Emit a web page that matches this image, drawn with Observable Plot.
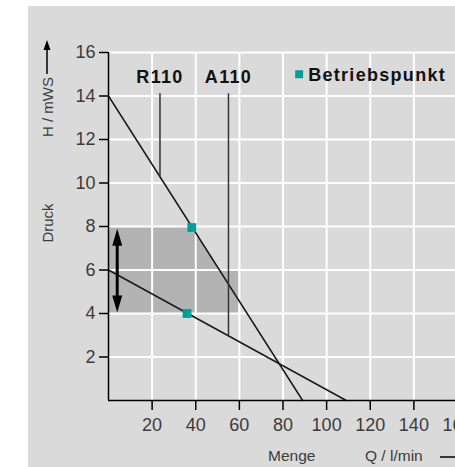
<!DOCTYPE html>
<html>
<head>
<meta charset="utf-8">
<script src="https://cdn.jsdelivr.net/npm/d3@7"></script>
<script src="https://cdn.jsdelivr.net/npm/@observablehq/plot@0.6"></script>
<style>
  html, body { margin: 0; padding: 0; background: #fff; overflow: hidden; width: 455px; height: 467px; }
  #panel { position: absolute; left: 28px; top: 6px; width: 480px; height: 461px; background: #dadada; overflow: hidden;
           font-family: "Liberation Sans", Arial, sans-serif; color: #3c3c3c; }
  #chart { position: absolute; left: 0; top: 0; }
  .rot { position: absolute; white-space: nowrap; font-size: 15px; transform: translate(-50%, -50%) rotate(-90deg); }
  .xt { position: absolute; white-space: nowrap; font-size: 15.5px; transform: translateY(-50%); }
  g[font-weight="bold"] { letter-spacing: 1.3px; }
  svg.ov { position: absolute; overflow: visible; }
</style>
</head>
<body>
<div id="panel">
  <div id="chart"></div>
  <div class="rot" style="left:19px; top:101px;">H / mWS</div>
  <svg class="ov" style="left:13px; top:32px;" width="12" height="40">
    <line x1="6" y1="8" x2="6" y2="36" stroke="#000" stroke-width="1.5"/>
    <path d="M6,2 L9.5,12 L2.5,12 Z" fill="#000"/>
  </svg>
  <div class="rot" style="left:19px; top:217px;">Druck</div>
  <div class="xt" style="left:240px; top:450px;">Menge</div>
  <div class="xt" style="left:337px; top:450px;">Q / l/min</div>
  <svg class="ov" style="left:410px; top:445px;" width="60" height="12">
    <line x1="2" y1="6" x2="60" y2="6" stroke="#000" stroke-width="1.5"/>
  </svg>
</div>
<script>
// Axis ticks
const xTicks = [20, 40, 60, 80, 100, 120, 140, 160];
const yTicks = [2, 4, 6, 8, 10, 12, 14, 16];

// Pump curves (Q in l/min, H in mWS)
const r110Q = [0, 89];
const r110H = [14, 0];
const a110Q = [0, 109];
const a110H = [6, 0];

// Operating points (Betriebspunkt)
const pointQ = [38.2, 36];
const pointH = [7.95, 4];

// Curve labels and their marker lines
const labelNames = ["R110", "A110"];
const labelQ = [23.6, 55];
const labelTextH = [14.85, 14.85];
const labelTopH = [14.1, 14.1];
const labelBottomH = [10.3, 2.95];

// Shaded pressure range
const rangeH = [4, 6, 6, 8];
const rangeQmax = [59.6, 59.6, 50.9, 38.1];

// Double arrow (pressure range)
const arrowQ = [4];
const arrowBottomH = [4.05];
const arrowTopH = [7.9];

// Legend
const legendLabel = ["Betriebspunkt"];
const legendQ = [87.4];
const legendH = [15.0];

const teal = "#00a09a";

const zip = (a, b) => a.map((v, i) => ({q: v, h: b[i]}));
const labels = labelNames.map((n, i) => ({name: n, q: labelQ[i], t: labelTextH[i], top: labelTopH[i], bottom: labelBottomH[i]}));
const range = rangeH.map((h, i) => ({h, q: rangeQmax[i]}));
const arrow = arrowQ.map((q, i) => ({q, lo: arrowBottomH[i], hi: arrowTopH[i]}));
const legend = legendLabel.map((l, i) => ({label: l, q: legendQ[i], h: legendH[i]}));

const headUp = {draw(ctx) { ctx.moveTo(0, 0); ctx.lineTo(5, 17); ctx.lineTo(-5, 17); ctx.closePath(); }};
const headDown = {draw(ctx) { ctx.moveTo(0, 0); ctx.lineTo(5, -17); ctx.lineTo(-5, -17); ctx.closePath(); }};

const chart = Plot.plot({
  width: 460,
  height: 461,
  marginLeft: 80,
  marginRight: 31,
  marginTop: 46,
  marginBottom: 67,
  x: {domain: [0, 160], axis: null},
  y: {domain: [0, 16], axis: null},
  style: {background: "transparent", fontFamily: "'Liberation Sans', Arial, sans-serif", overflow: "visible"},
  marks: [
    Plot.areaX(range, {y: "h", x1: 0, x2: "q", fill: "#b3b3b3"}),
    Plot.gridX(xTicks, {stroke: "#fff", strokeOpacity: 1, strokeWidth: 2}),
    Plot.gridY(yTicks, {stroke: "#fff", strokeOpacity: 1, strokeWidth: 2}),
    Plot.line(zip(r110Q, r110H), {x: "q", y: "h", stroke: "#1a1a1a", strokeWidth: 1.5}),
    Plot.line(zip(a110Q, a110H), {x: "q", y: "h", stroke: "#1a1a1a", strokeWidth: 1.5}),
    Plot.ruleX(labels, {x: "q", y1: "bottom", y2: "top", stroke: "#333", strokeWidth: 1.5}),
    Plot.text(labels, {x: "q", y: "t", text: "name", fontSize: 18, fontWeight: "bold", fill: "#111"}),
    Plot.ruleX(arrow, {x: "q", y1: d => d.lo + 0.5, y2: d => d.hi - 0.5, stroke: "#000", strokeWidth: 3}),
    Plot.dot(arrow, {x: "q", y: "hi", symbol: headUp, fill: "#000", stroke: null}),
    Plot.dot(arrow, {x: "q", y: "lo", symbol: headDown, fill: "#000", stroke: null}),
    Plot.dot(zip(pointQ, pointH), {x: "q", y: "h", symbol: "square", r: 5, fill: teal, stroke: null}),
    Plot.dot(legend, {x: "q", y: "h", symbol: "square", r: 4.5, fill: teal, stroke: null}),
    Plot.text(legend, {x: "q", y: "h", text: "label", dx: 9, dy: 1, textAnchor: "start", fontSize: 18, fontWeight: "bold", fill: "#111"}),
    Plot.ruleY([0], {stroke: "#000", strokeWidth: 1.5}),
    Plot.ruleX([0], {stroke: "#000", strokeWidth: 1.5}),
    Plot.axisX(xTicks, {tickSize: 10, tickPadding: 8, fontSize: 18, stroke: "#000", strokeWidth: 1.5, fill: "#3c3c3c", label: null}),
    Plot.axisY(yTicks, {tickSize: 9, tickPadding: 4, fontSize: 18, stroke: "#000", strokeWidth: 1.5, fill: "#3c3c3c", label: null})
  ]
});
document.getElementById("chart").appendChild(chart);
</script>
</body>
</html>
